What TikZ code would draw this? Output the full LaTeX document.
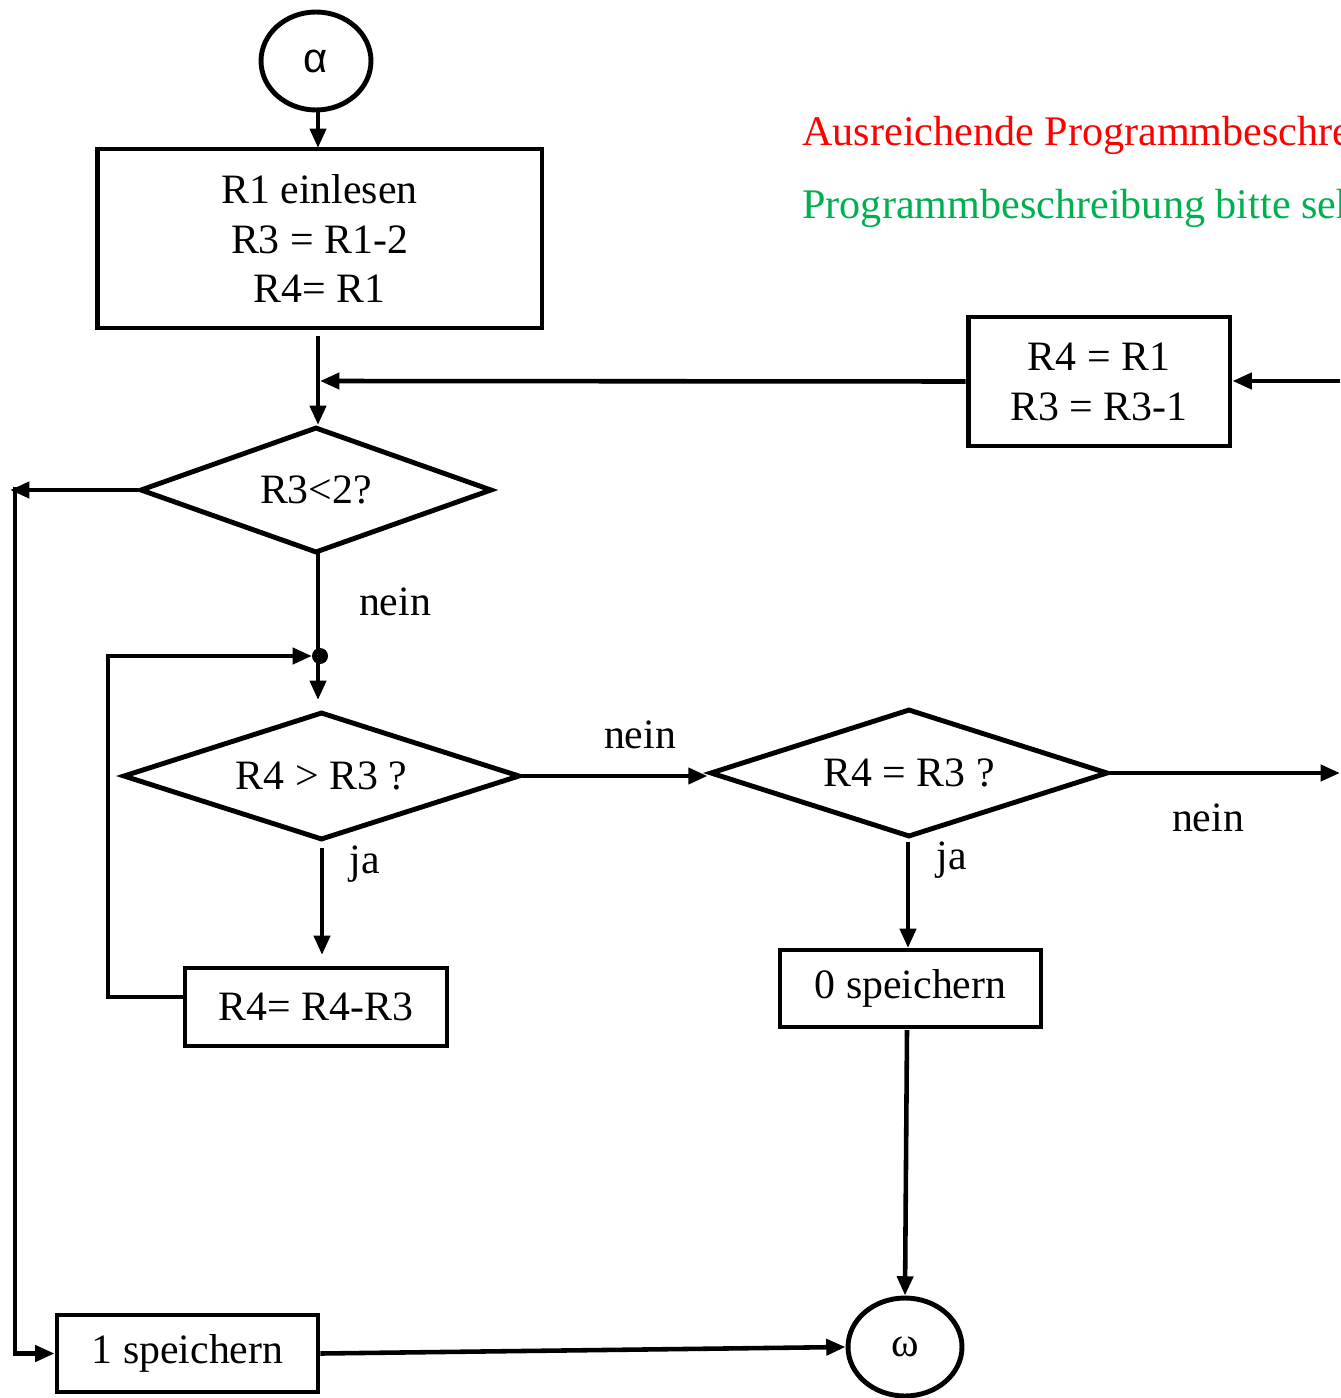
\documentclass[tikz,border=0pt]{standalone}
\usepackage{fontspec}
\setmainfont{Liberation Serif}
\newfontfamily\alphafont{Liberation Sans}
\usetikzlibrary{arrows.meta,shapes.geometric,calc}
\definecolor{txtred}{RGB}{255,0,0}
\definecolor{txtgreen}{RGB}{0,176,80}
\tikzset{
  fnt/.style={font=\fontsize{23.8}{28.4}\selectfont},
  box/.style={draw,line width=2.8pt,rectangle,inner sep=0pt,fnt,align=center},
  dia/.style={draw,line width=2.8pt,diamond,inner sep=0pt,fnt},
  term/.style={draw,line width=2.8pt,ellipse,inner sep=0pt,fnt},
  conn/.style={line width=2.6pt},
  arr/.style={conn,-{Triangle[length=11pt,width=9pt]}},
  lbl/.style={fnt,inner sep=0pt},
  side/.style={font=\fontsize{24}{28}\selectfont,inner sep=0pt,anchor=base west},
}
\begin{document}
\begin{tikzpicture}[x=0.02cm,y=-0.02cm]
\useasboundingbox (0,0) rectangle (1340,1398);
\clip (0,0) rectangle (1340,1398);

% nodes
\node[term,minimum width=2.2cm,minimum height=1.96cm] (al) at (316,61) {\alphafont α};
\node[box,minimum width=8.9cm,minimum height=3.58cm] (b1) at (319.5,238.5) {R1 einlesen\\R3 = R1-2\\R4= R1};
\node[box,minimum width=5.24cm,minimum height=2.58cm] (bR) at (1099,381.5) {R4 = R1\\R3 = R3-1};
\node[dia,aspect=2.79,minimum width=7.04cm,minimum height=2.52cm] (d1) at (316,490) {R3<2?};
\node[dia,aspect=3.1,minimum width=7.94cm,minimum height=2.56cm] (d2) at (321.5,776) {R4 > R3 ?};
\node[dia,aspect=3.1,minimum width=7.96cm,minimum height=2.56cm] (d3) at (909,773) {R4 = R3 ?};
\node[box,minimum width=5.24cm,minimum height=1.56cm] (bs) at (316,1007) {R4= R4-R3};
\node[box,minimum width=5.22cm,minimum height=1.54cm] (b0) at (910.5,988.5) {0 speichern};
\node[term,minimum width=2.28cm,minimum height=1.96cm] (om) at (905,1347) {ω};
\node[box,minimum width=5.22cm,minimum height=1.54cm] (b1s) at (187.5,1353.5) {1 speichern};

% side texts (cut off at the right edge, as in the reference)
\node[side,text=txtred] (t1) at (802,146) {Ausreichende Programmbeschreibung};
\node[side,text=txtgreen] (t2) at (802,219) {Programmbeschreibung bitte sehen};

% labels
\node[lbl] (n1) at (395,602) {nein};
\node[lbl] (j1) at (365,864) {ja};
\node[lbl] (n2) at (640,735) {nein};
\node[lbl] (j2) at (952,860) {ja};
\node[lbl] (n3) at (1208,818) {nein};

% coordinates
\coordinate (jn) at (318,656);
\coordinate (lc) at (10,490);
\coordinate (lv) at (15,487);
\coordinate (rin) at (1340,381);
\coordinate (rout) at (1340,772);
\coordinate (lp) at (185,997);

% connectors
\draw[arr] (318,110) -- (318,148);
\draw[arr] (318,336) -- (318,425);
\draw[arr] (bR.west) -- (320,381);
\draw[arr] (rin) -- (rin -| bR.east);
\draw[arr] (d1.west) -- (lc);
\draw[arr] (lv) |- (b1s.west);
\draw[conn] (318,553) -- (jn);
\fill (320,656) circle[radius=8];
\draw[arr] (jn) -- (318,700);
\draw[arr] (lp) -- (108,997) |- (312,656);
\draw[arr] (322,848) -- (322,955);
\draw[arr] (d2.east) -- (d2.east -| d3.west);
\draw[arr] (d3.east) -- (d3.east -| rout);
\draw[arr] (908,842) -- (908,948);
\draw[arr] (907,1030) -- (om.north);
\draw[arr] (b1s.east) -- (om.west);
\end{tikzpicture}
\end{document}
